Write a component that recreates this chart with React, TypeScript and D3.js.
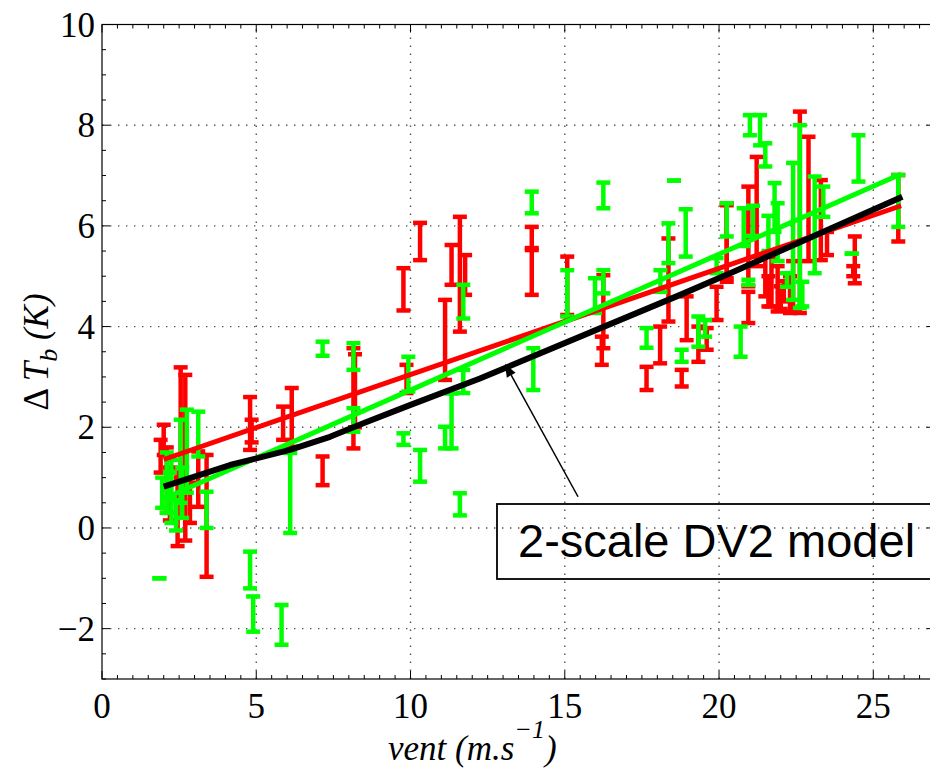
import React from "react";
import * as d3 from "d3";

// ---- Data ----
// Red series error bars: x, lower, upper
const redX = [1.9, 2.0, 2.1, 2.2, 2.55, 2.45, 2.7, 2.85, 3.12, 3.39,
  4.8, 4.85, 5.87, 6.15, 7.15, 8.15, 8.2, 9.77, 9.87, 10.31, 11.12, 11.33, 11.6, 11.77,
  13.93, 13.93, 15.08, 16.25, 16.2, 17.65, 18.09, 18.36, 18.79, 18.95, 19.33, 19.6, 19.92, 20.25,
  20.25, 20.95, 20.95, 21.22, 21.5, 21.7, 21.9, 22.1, 22.3, 22.62, 22.9, 23.3, 23.5, 24.4, 24.35, 25.81,
  21.6, 22.0, 22.4];
const redLo = [1.1, 1.45, 0.3, 0.15, 1.0, -0.36, -0.25, 0.1, 0.42, -0.97,
  1.55, 1.7, 1.75, 1.61, 0.85, 1.58, 2.0, 4.32, 2.68, 5.32, 2.94, 4.83, 3.9, 4.63,
  5.56, 4.63, 4.23, 3.57, 3.24, 2.74, 3.27, 4.1, 2.81, 3.73, 3.3, 3.54, 4.13, 4.89,
  4.96, 4.07, 4.8, 5.2, 4.6, 4.4, 4.3, 4.5, 4.27, 4.27, 5.3, 5.32, 5.42, 4.86, 5.0, 5.69,
  4.4, 4.35, 4.3];
const redHi = [1.75, 2.05, 1.6, 1.2, 3.19, 1.1, 3.04, 0.9, 1.52, 1.45,
  2.6, 2.15, 2.41, 2.78, 1.42, 3.57, 3.45, 5.16, 3.24, 6.06, 4.53, 5.62, 6.18, 5.42,
  5.98, 5.52, 5.39, 5.02, 3.8, 3.2, 4.0, 5.75, 3.14, 4.6, 4.0, 3.97, 4.79, 6.45,
  6.41, 4.69, 6.78, 7.37, 5.4, 5.39, 5.2, 4.9, 5.0, 8.27, 7.77, 6.91, 5.88, 5.79, 5.2, 7.01,
  5.0, 4.8, 5.3];

// Green series error bars: x, lower, upper
const greenX = [1.86, 1.95, 2.1, 2.25, 2.4, 2.55, 2.75, 2.6, 2.2, 3.12, 3.39,
  4.8, 4.9, 5.82, 6.1, 7.15, 8.15, 8.15, 9.77, 9.93, 10.31, 11.12, 11.33, 11.6, 11.71, 11.71,
  13.93, 13.98, 15.08, 15.98, 16.25, 16.25, 17.65, 18.1, 18.36, 18.54, 18.79, 18.92, 19.33, 19.55,
  19.92, 20.25, 20.7, 20.8, 20.95, 21.0, 21.1, 21.33, 21.5, 21.6, 21.8, 21.9, 22.2, 22.4, 22.62,
  22.7, 23.1, 23.38, 24.3, 24.52, 25.81];
const greenLo = [-1.0, 0.4, 0.3, 0.1, -0.05, 0.5, 0.7, 0.2, 0.6, 1.42, 0.0,
  -1.2, -2.06, -2.32, -0.1, 3.42, 3.14, 1.91, 1.65, 2.71, 0.92, 1.58, 1.58, 0.25, 2.68, 4.16,
  6.25, 2.74, 4.2, 4.27, 4.66, 6.35, 3.58, 4.69, 5.26, 6.9, 3.3, 5.39, 3.6, 3.8,
  5.06, 5.79, 3.4, 5.6, 4.83, 7.8, 5.8, 7.6, 7.18, 5.5, 5.88, 5.3, 4.79, 4.53, 4.37,
  4.4, 5.06, 6.18, 5.45, 6.88, 5.98];
const greenHi = [-1.0, 1.0, 1.5, 1.35, 0.55, 2.15, 2.35, 1.2, 1.1, 2.31, 0.72,
  -0.47, -1.36, -1.53, 1.49, 3.7, 3.67, 2.38, 1.88, 3.4, 1.55, 2.01, 2.67, 0.69, 3.14, 4.83,
  6.68, 3.57, 5.12, 4.96, 5.12, 6.86, 3.97, 5.12, 6.05, 6.9, 3.54, 6.33, 4.2, 4.13,
  5.36, 6.45, 4.0, 6.35, 4.93, 8.2, 6.4, 8.2, 7.64, 6.2, 6.85, 6.45, 5.06, 7.25, 8.0,
  4.89, 6.98, 6.78, 5.45, 7.8, 7.01];

// Linear fits
const redFitX = [2.0, 25.9];
const redFitY = [1.36, 6.4];
const greenFitX = [2.0, 25.9];
const greenFitY = [0.58, 7.03];

// 2-scale DV2 model curve
const modelX = [2.0, 4.15, 6.09, 7.39, 8.47, 9.98, 12.25, 18.74, 20.36, 25.94];
const modelY = [0.82, 1.25, 1.55, 1.81, 2.08, 2.44, 2.97, 4.63, 5.06, 6.58];

const xTicks = [0, 5, 10, 15, 20, 25];
const yTicks = [-2, 0, 2, 4, 6, 8, 10];
const xGrid = [5, 10, 15, 20, 25];
const yGrid = [-2, 0, 2, 4, 6, 8];

const legendLabel = "2-scale DV2 model";
// annotation arrow: tail and head in data units
const arrowTail = [15.43, 0.62];
const arrowHead = [13.06, 3.26];

const W = 930;
const H = 771;

export default function App() {
  const x = d3.scaleLinear().domain([0, 27]).range([102, 935]);
  const y = d3.scaleLinear().domain([-3, 10]).range([679, 24.5]);
  const x0 = x(0), x1 = x(27), y0 = y(-3), y1 = y(10);

  const line = d3.line<[number, number]>().x(d => x(d[0])).y(d => y(d[1]));

  const xMinor = d3.range(0, 27.001, 0.5);
  const yMinor = d3.range(-3, 10.001, 0.5);
  const serif = "'Liberation Serif', 'Times New Roman', serif";
  const sans = "'Liberation Sans', Arial, sans-serif";
  const capW = 7;

  const bars = (xs: number[], lo: number[], hi: number[], color: string, key: string) =>
    xs.map((xv, i) => {
      const px = x(xv);
      const pl = y(lo[i]);
      const ph = y(hi[i]);
      return (
        <g key={key + i} stroke={color} strokeWidth={4.5} fill="none">
          <line x1={px} x2={px} y1={pl} y2={ph} />
          <line x1={px - capW} x2={px + capW} y1={pl} y2={pl} />
          <line x1={px - capW} x2={px + capW} y1={ph} y2={ph} />
        </g>
      );
    });

  // arrow geometry
  const tx = x(arrowTail[0]), ty = y(arrowTail[1]);
  const hx = x(arrowHead[0]), hy = y(arrowHead[1]);
  const ang = Math.atan2(hy - ty, hx - tx);
  const aL = 13, aW = 5;
  const bx = hx - aL * Math.cos(ang), by = hy - aL * Math.sin(ang);
  const p1 = [bx + aW * Math.sin(ang), by - aW * Math.cos(ang)];
  const p2 = [bx - aW * Math.sin(ang), by + aW * Math.cos(ang)];

  return (
    <svg width={W} height={H} style={{ position: "absolute", left: 0, top: 0, display: "block", background: "#fff" }}>
      <rect x={0} y={0} width={W} height={H} fill="#fff" />
      {/* grid */}
      <g stroke="#555" strokeWidth={1.4} strokeDasharray="1.4,6.6">
        {xGrid.map(v => <line key={"gx" + v} x1={x(v)} x2={x(v)} y1={y0} y2={y1} />)}
        {yGrid.map(v => <line key={"gy" + v} x1={x0} x2={x1} y1={y(v)} y2={y(v)} />)}
      </g>
      {/* error bars */}
      {bars(redX, redLo, redHi, "#ff0000", "r")}
      {bars(greenX, greenLo, greenHi, "#00ff00", "g")}
      {/* fits */}
      <path d={line(redFitX.map((v, i) => [v, redFitY[i]]) as any) || ""} stroke="#ff0000" strokeWidth={5} fill="none" />
      <path d={line(greenFitX.map((v, i) => [v, greenFitY[i]]) as any) || ""} stroke="#00ff00" strokeWidth={5} fill="none" />
      <path d={line(modelX.map((v, i) => [v, modelY[i]]) as any) || ""} stroke="#000" strokeWidth={6} fill="none" strokeLinejoin="round" />
      {/* axes box */}
      <rect x={x0} y={y1} width={x1 - x0} height={y0 - y1} fill="none" stroke="#000" strokeWidth={1.2} />
      <g stroke="#000" strokeWidth={1}>
        {xMinor.map(v => {
          const major = xTicks.includes(v);
          const L = major ? 8 : 4;
          return (
            <g key={"xt" + v}>
              <line x1={x(v)} x2={x(v)} y1={y0} y2={y0 - L} />
              <line x1={x(v)} x2={x(v)} y1={y1} y2={y1 + L} />
            </g>
          );
        })}
        {yMinor.map(v => {
          const major = yTicks.includes(v);
          const L = major ? 8 : 4;
          return (
            <g key={"yt" + v}>
              <line x1={x0} x2={x0 + L} y1={y(v)} y2={y(v)} />
              <line x1={x1} x2={x1 - L} y1={y(v)} y2={y(v)} />
            </g>
          );
        })}
      </g>
      {/* tick labels */}
      <g fontFamily={serif} fontSize={35} fill="#000">
        {xTicks.map(v => (
          <text key={"xl" + v} x={x(v)} y={718} textAnchor="middle">{v}</text>
        ))}
        {yTicks.map(v => (
          <text key={"yl" + v} x={x0 - 7} y={y(v) + 12} textAnchor="end">{v < 0 ? "\u2212" + Math.abs(v) : v}</text>
        ))}
      </g>
      {/* x label */}
      <text x={388} y={760} fontFamily={serif} fontSize={35} fontStyle="italic" fill="#000">
        vent (m.s<tspan dy={-22} fontSize={26}>{"\u22121"}</tspan><tspan dy={22} fontSize={35}>)</tspan>
      </text>
      {/* y label */}
      <text transform={`translate(48,352) rotate(-90)`} textAnchor="middle" fontFamily={serif} fontSize={35} fill="#000">
        <tspan>{"\u0394 "}</tspan><tspan fontStyle="italic">T</tspan><tspan fontStyle="italic" fontSize={26} dy={9}>b</tspan><tspan fontStyle="italic" dy={-9}> (K)</tspan>
      </text>
      {/* legend box */}
      <rect x={497} y={504} width={460} height={75} fill="none" stroke="#000" strokeWidth={1.8} />
      <text x={518} y={557} fontFamily={sans} fontSize={47} fill="#000">{legendLabel}</text>
      {/* arrow */}
      <line x1={tx} y1={ty} x2={bx} y2={by} stroke="#000" strokeWidth={1.5} />
      <polygon points={`${hx},${hy} ${p1[0]},${p1[1]} ${p2[0]},${p2[1]}`} fill="#000" />
    </svg>
  );
}
